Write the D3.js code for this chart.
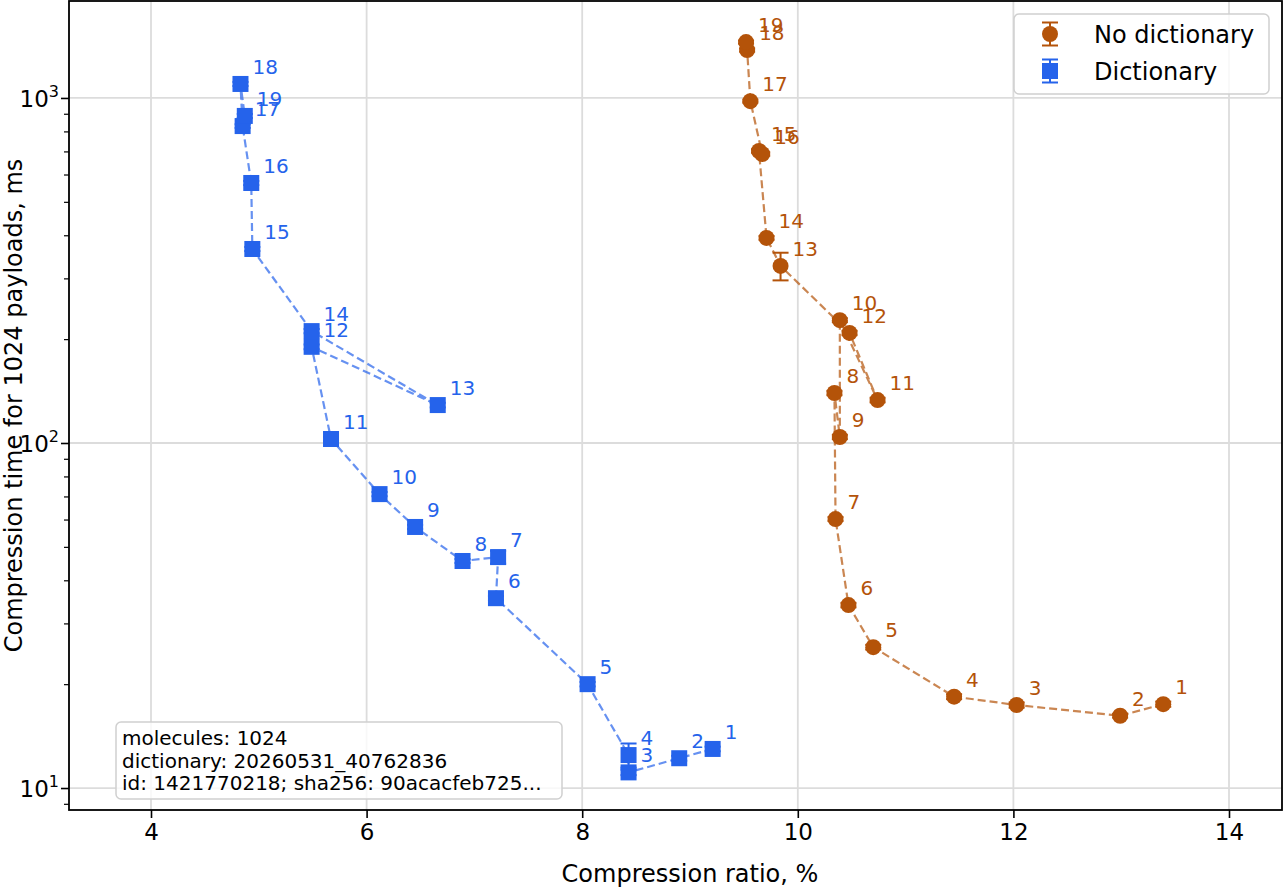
<!DOCTYPE html>
<html>
<head>
<meta charset="utf-8">
<script src="https://cdn.jsdelivr.net/npm/d3@7/dist/d3.min.js"></script>
<style>
  body { margin: 0; background: #fff; }
  svg text { font-family: "DejaVu Sans", sans-serif; }
</style>
</head>
<body>
<div id="chart"></div>
<script>
// compression levels (point labels)
const levels = [1, 2, 3, 4, 5, 6, 7, 8, 9, 10, 11, 12, 13, 14, 15, 16, 17, 18, 19];

// No dictionary
const noDictRatio = [13.39, 12.99, 12.03, 11.45, 10.70, 10.47, 10.35, 10.34, 10.39, 10.39, 10.74, 10.48, 9.84, 9.71, 9.64, 9.67, 9.56, 9.53, 9.52];
const noDictTime = [17.5, 16.2, 17.4, 18.4, 25.6, 33.9, 60.2, 139.6, 104.1, 227, 133.2, 208.4, 326, 393, 702, 688, 979, 1377, 1452];
const noDictErr = [0.3, 0.2, 0.3, 0.3, 0.4, 0.5, 0.8, 2, 1.5, 3, 2, 3, 30, 5, 8, 8, 10, 15, 15];

// Dictionary
const dictRatio = [9.21, 8.90, 8.43, 8.43, 8.05, 7.20, 7.22, 6.89, 6.45, 6.12, 5.67, 5.49, 6.66, 5.49, 4.94, 4.93, 4.85, 4.83, 4.87];
const dictTime = [12.98, 12.2, 11.1, 12.46, 20.0, 35.5, 46.7, 45.5, 57.1, 71.1, 102.7, 190, 128.8, 211, 365, 567, 829, 1098, 887];
const dictErr = [0.2, 0.2, 0.2, 1.0, 0.3, 0.5, 2.0, 0.6, 0.8, 1, 1.5, 3, 2, 3, 5, 8, 10, 15, 12];

const xTicks = [4, 6, 8, 10, 12, 14];
const yTicks = [10, 100, 1000];
const infoLines = ["molecules: 1024", "dictionary: 20260531_40762836", "id: 1421770218; sha256: 90acacfeb725..."];

const orange = "#b45309", blue = "#2563eb";

const W = 1284, H = 888;
const margin = { top: 1, right: 2, bottom: 78, left: 69 },
    width = W - margin.left - margin.right,
    height = H - margin.top - margin.bottom;

const svg = d3.select("#chart").append("svg")
    .attr("width", W).attr("height", H);

const g = svg.append("g")
    .attr("transform", "translate(" + margin.left + "," + margin.top + ")");

const xScale = d3.scaleLinear().domain([3.2393, 14.4917]).range([0, width]);
const yScale = d3.scaleLog().domain([8.636, 1910]).range([height, 0]);

// grid
g.append("g").selectAll("line").data(xTicks).enter().append("line")
    .attr("x1", d => xScale(d)).attr("x2", d => xScale(d))
    .attr("y1", 0).attr("y2", height)
    .attr("stroke", "#dcdcdc").attr("stroke-width", 1.8);
g.append("g").selectAll("line").data(yTicks).enter().append("line")
    .attr("y1", d => yScale(d)).attr("y2", d => yScale(d))
    .attr("x1", 0).attr("x2", width)
    .attr("stroke", "#dcdcdc").attr("stroke-width", 1.8);

// axes
const xAxis = g.append("g")
    .attr("transform", "translate(0," + height + ")")
    .call(d3.axisBottom(xScale).tickValues(xTicks).tickFormat(d3.format("d")).tickSize(8).tickPadding(6).tickSizeOuter(0));
xAxis.select(".domain").remove();
xAxis.selectAll("text").attr("font-size", "23px").attr("fill", "#000");
xAxis.selectAll("line").attr("stroke-width", 1.6);

const minor = [];
[1, 10, 100, 1000].forEach(p => { for (let k = 2; k <= 9; k++) { const v = p * k; if (v > 8.636 && v < 1910) minor.push(v); } });
const yMinor = g.append("g")
    .call(d3.axisLeft(yScale).tickValues(minor).tickFormat("").tickSize(5).tickSizeOuter(0));
yMinor.select(".domain").remove();
yMinor.selectAll("line").attr("stroke-width", 1.2);

const yAxis = g.append("g")
    .call(d3.axisLeft(yScale).tickValues(yTicks).tickFormat("").tickSize(8).tickSizeOuter(0));
yAxis.select(".domain").remove();
yAxis.selectAll("line").attr("stroke-width", 1.6);
yAxis.selectAll(".tick").append("text")
    .attr("x", -10).attr("dy", "0.36em")
    .attr("text-anchor", "end").attr("fill", "#000").attr("font-size", "23px")
    .each(function (d) {
        const t = d3.select(this);
        t.append("tspan").text("10");
        t.append("tspan").attr("font-size", "16px").attr("dy", "-0.6em").text(Math.round(Math.log10(d)));
    });

// frame
g.append("rect").attr("width", width).attr("height", height)
    .attr("fill", "none").attr("stroke", "#000").attr("stroke-width", 1.8);

// axis titles
svg.append("text")
    .attr("x", 690).attr("y", 882)
    .attr("text-anchor", "middle").attr("font-size", "24px")
    .text("Compression ratio, %");
svg.append("text")
    .attr("transform", "translate(22," + (margin.top + height / 2) + ") rotate(-90)")
    .attr("text-anchor", "middle").attr("font-size", "24px")
    .text("Compression time for 1024 payloads, ms");

// series
function drawSeries(ratio, time, err, color, shape) {
    const data = levels.map((l, i) => ({ level: l, x: ratio[i], y: time[i], e: err[i] }));
    const line = d3.line().x(d => xScale(d.x)).y(d => yScale(d.y));
    g.append("path").datum(data)
        .attr("d", line)
        .attr("fill", "none")
        .attr("stroke", color).attr("stroke-opacity", 0.7)
        .attr("stroke-width", 2.2).attr("stroke-dasharray", "8,4");

    const eb = g.append("g").attr("stroke", color).attr("stroke-width", 2);
    data.forEach(d => {
        const x = xScale(d.x), y1 = yScale(d.y + d.e), y2 = yScale(d.y - d.e);
        eb.append("line").attr("x1", x).attr("x2", x).attr("y1", y1).attr("y2", y2);
        eb.append("line").attr("x1", x - 8).attr("x2", x + 8).attr("y1", y1).attr("y2", y1);
        eb.append("line").attr("x1", x - 8).attr("x2", x + 8).attr("y1", y2).attr("y2", y2);
    });

    if (shape === "circle") {
        g.append("g").selectAll("circle").data(data).enter().append("circle")
            .attr("cx", d => xScale(d.x)).attr("cy", d => yScale(d.y))
            .attr("r", 8).attr("fill", color);
    } else {
        g.append("g").selectAll("rect").data(data).enter().append("rect")
            .attr("x", d => xScale(d.x) - 8).attr("y", d => yScale(d.y) - 8)
            .attr("width", 16).attr("height", 16).attr("fill", color);
    }

    g.append("g").selectAll("text").data(data).enter().append("text")
        .attr("x", d => xScale(d.x) + 12).attr("y", d => yScale(d.y) - 10)
        .attr("font-size", "20px").attr("fill", color)
        .text(d => d.level);
}

drawSeries(noDictRatio, noDictTime, noDictErr, orange, "circle");
drawSeries(dictRatio, dictTime, dictErr, blue, "square");

// legend
const legend = svg.append("g").attr("transform", "translate(1014,14)");
legend.append("rect").attr("width", 255).attr("height", 80).attr("rx", 5)
    .attr("fill", "#fff").attr("fill-opacity", 0.8)
    .attr("stroke", "#d0d0d0").attr("stroke-width", 1.5);
const legendItems = [
    { name: "No dictionary", color: orange, shape: "circle" },
    { name: "Dictionary", color: blue, shape: "square" }
];
legendItems.forEach((item, i) => {
    const row = legend.append("g").attr("transform", "translate(36," + (20 + i * 37) + ")");
    row.append("line").attr("y1", -11.5).attr("y2", 11.5).attr("stroke", item.color).attr("stroke-width", 2);
    row.append("line").attr("x1", -8).attr("x2", 8).attr("y1", -11.5).attr("y2", -11.5).attr("stroke", item.color).attr("stroke-width", 2);
    row.append("line").attr("x1", -8).attr("x2", 8).attr("y1", 11.5).attr("y2", 11.5).attr("stroke", item.color).attr("stroke-width", 2);
    if (item.shape === "circle") row.append("circle").attr("r", 8).attr("fill", item.color);
    else row.append("rect").attr("x", -8).attr("y", -8).attr("width", 16).attr("height", 16).attr("fill", item.color);
    row.append("text").attr("x", 44).attr("y", 9).attr("font-size", "24px").text(item.name);
});

// info box
const info = svg.append("g").attr("transform", "translate(116,722)");
info.append("rect").attr("width", 446).attr("height", 77).attr("rx", 5)
    .attr("fill", "#fff").attr("fill-opacity", 0.8)
    .attr("stroke", "#d0d0d0").attr("stroke-width", 1.5);
info.selectAll("text").data(infoLines).enter().append("text")
    .attr("x", 6).attr("y", (d, i) => 23 + i * 22.5)
    .attr("font-size", "20px")
    .text(d => d);
</script>
</body>
</html>
